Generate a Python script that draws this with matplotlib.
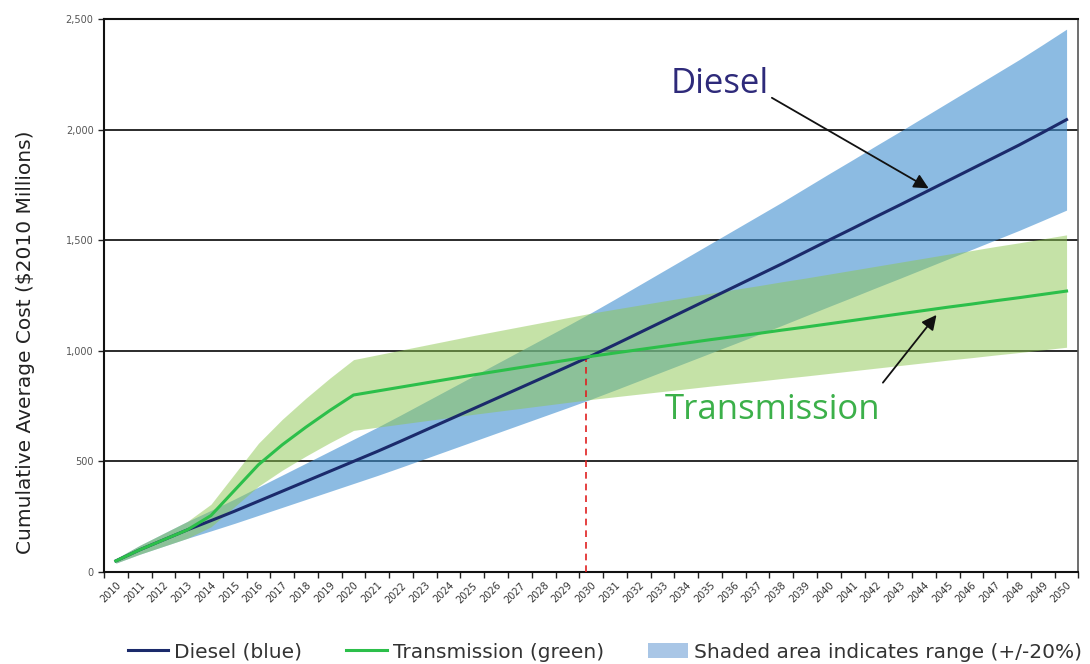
import matplotlib
matplotlib.use("Agg")
import matplotlib.pyplot as plt
import numpy as np
from matplotlib.patches import Patch
from matplotlib.lines import Line2D

years = list(range(2010, 2051))
diesel = [50, 100, 145, 190, 232, 275, 320, 365, 410, 455, 500,
          545, 592, 640, 688, 736, 784, 832, 880, 928, 977,
          1028, 1080, 1132, 1184, 1236, 1288, 1340, 1392, 1446, 1500,
          1553, 1607, 1660, 1714, 1768, 1822, 1876, 1930, 1987, 2045]
transmission = [50, 100, 145, 190, 255, 370, 485, 575, 655, 730, 800,
                818, 836, 854, 872, 890, 907, 924, 941, 958, 975,
                990, 1005, 1020, 1035, 1050, 1064, 1078, 1093, 1107, 1122,
                1137, 1152, 1167, 1182, 1197, 1211, 1226, 1240, 1255, 1270]
band = 0.20
yticks = [0, 500, 1000, 1500, 2000, 2500]
ytick_labels = ["0", "500", "1,000", "1,500", "2,000", "2,500"]

d = np.array(diesel, float)
t = np.array(transmission, float)
x = np.arange(len(years))

fig = plt.figure(figsize=(10.9, 6.64), dpi=100)
ax = fig.add_axes([0.0954, 0.1386, 0.894, 0.8328])

for v in yticks[1:-1]:
    ax.axhline(v, color="#1a1a1a", lw=1.3, zorder=1)

ax.fill_between(x, d * (1 - band), d * (1 + band), color="#3f8ed0", alpha=0.6, lw=0, zorder=2)
ax.fill_between(x, t * (1 - band), t * (1 + band), color="#8dc751", alpha=0.5, lw=0, zorder=3)

ax.plot(x, d, color="#1b2a6b", lw=2.2, zorder=5)
ax.plot(x, t, color="#2cbf4a", lw=2.2, zorder=5)

# crossing marker
ax.plot([19.8, 19.8], [0, 975], color="#e02020", lw=1.2, ls=(0, (4, 3)), zorder=4)

ax.annotate("", xy=(34.3, 1728), xytext=(27.5, 2150),
            arrowprops=dict(arrowstyle="-|>", color="#111111", lw=1.3, mutation_scale=22), zorder=6)
ax.text(25.4, 2205, "Diesel", color="#2e2a7a", fontsize=25, ha="center", va="center",
        family="Open Sans", zorder=6)
ax.annotate("", xy=(34.6, 1172), xytext=(32.2, 846),
            arrowprops=dict(arrowstyle="-|>", color="#111111", lw=1.3, mutation_scale=22), zorder=6)
ax.text(27.65, 733, "Transmission", color="#3cb04a", fontsize=25, ha="center", va="center",
        family="Open Sans", zorder=6)

ax.set_xlim(-0.5, len(years) - 0.5)
ax.set_ylim(0, 2500)
ax.set_yticks(yticks)
ax.set_yticklabels(ytick_labels, fontsize=7, color="#555555")
ax.tick_params(axis="y", length=4, width=1, color="#222222")
ax.set_xticks(x)
ax.set_xticklabels([str(y) for y in years], rotation=45, ha="right", rotation_mode="anchor",
                   fontsize=7, color="#333333")
ax.tick_params(axis="x", which="major", length=0, pad=6)
ax.set_xticks(np.arange(-0.5, len(years), 1.0), minor=True)
ax.tick_params(axis="x", which="minor", length=4, width=1, color="#222222")

for s in ["left", "bottom", "top"]:
    ax.spines[s].set_color("#111111")
    ax.spines[s].set_linewidth(1.5)
ax.spines["right"].set_color("#555555")
ax.spines["right"].set_linewidth(1.2)

ax.set_ylabel("Cumulative Average Cost ($2010 Millions)", fontsize=14.5, color="#222222")
ax.yaxis.set_label_coords(-0.071, 0.416)

handles = [Line2D([], [], color="#1b2a6b", lw=2.2),
           Line2D([], [], color="#2cbf4a", lw=2.2),
           Patch(facecolor="#a9c6e6", edgecolor="none")]
labels = ["Diesel (blue)", "Transmission (green)", "Shaded area indicates range (+/-20%)"]
fig.legend(handles, labels, loc="center", bbox_to_anchor=(0.555, 0.018), ncol=3, frameon=False,
           fontsize=14.5, handlelength=2.0, handletextpad=0.3, columnspacing=2.2,
           labelcolor="#333333")

fig.savefig("out.png", dpi=100, facecolor="white")
